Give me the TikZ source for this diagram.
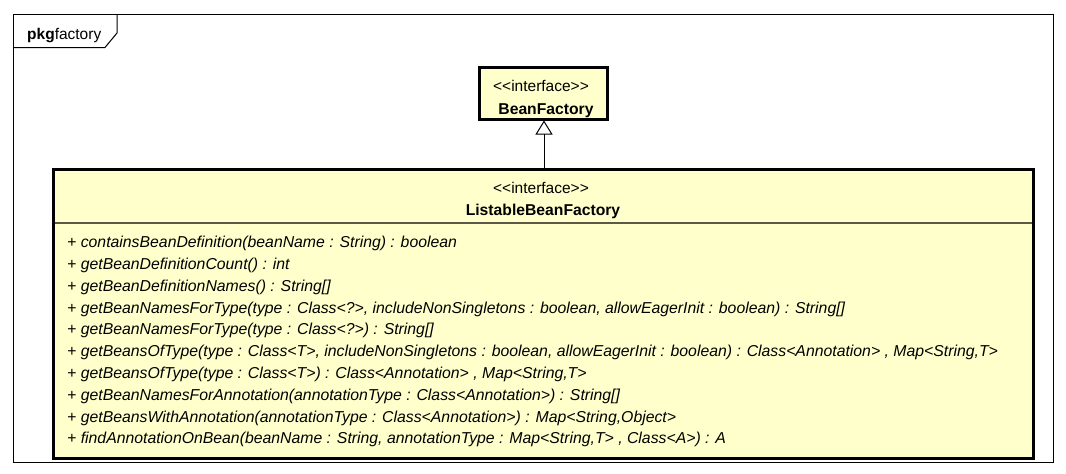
\documentclass[tikz,border=0pt]{standalone}
\usepackage{fontspec}
\setmainfont{Liberation Sans}
\usetikzlibrary{arrows.meta}
\definecolor{umlfill}{RGB}{255,255,204}
\definecolor{sepline}{RGB}{90,90,70}
\tikzset{
  pkgframe/.style={draw=black, line width=1pt},
  classbox/.style={draw=black, fill=umlfill, line width=3pt},
  stereo/.style={anchor=base, inner sep=0pt, font=\fontsize{15.5}{18}\selectfont},
  cname/.style={anchor=base, inner sep=0pt, font=\fontsize{15.7}{18}\selectfont\bfseries},
  method/.style={anchor=base west, inner sep=0pt, font=\fontsize{15.8}{18}\selectfont\itshape},
  realize/.style={-{Triangle[open, length=14pt, width=17pt, line width=1pt]}, line width=1pt}
}
\newcommand{\lt}{{<}}
\newcommand{\gt}{{>}}
\begin{document}
\begin{tikzpicture}[x=1pt,y=-1pt]
\useasboundingbox (0,0) rectangle (1066,474);
\fill[white] (0,0) rectangle (1066,474);
% package frame
\draw[pkgframe] (13,14) rectangle (1053,462);
\draw[pkgframe] (13,47.5) -- (105,47.5) -- (117,33) -- (117,14);
\node[anchor=base west, inner sep=0pt, font=\fontsize{15.5}{18}\selectfont] (pkglabel) at (27,39) {\textbf{pkg}factory};
% BeanFactory
\draw[classbox] (479,67) rectangle (607,119);
\coordinate (bfbottom) at (544,120.5);
\node[stereo] (bfstereo) at (541,91) {\lt\lt interface\gt\gt};
\node[cname] (bfname) at (546,114) {BeanFactory};
% ListableBeanFactory
\draw[classbox] (53,169) rectangle (1033,458);
\coordinate (lbftop) at (544,167.5);
\draw[sepline, line width=1.2pt] (54.5,223) -- (1031.5,223);
\node[stereo] (lbfstereo) at (541,193) {\lt\lt interface\gt\gt};
\node[cname] (lbfname) at (543,215) {ListableBeanFactory};
\node[method] (m1) at (67,247.5) {+ containsBeanDefinition(beanName : String) : boolean};
\node[method] (m2) at (67,269.5) {+ getBeanDefinitionCount() : int};
\node[method] (m3) at (67,291) {+ getBeanDefinitionNames() : String[]};
\node[method] (m4) at (67,313) {+ getBeanNamesForType(type : Class\lt?\gt, includeNonSingletons : boolean, allowEagerInit : boolean) : String[]};
\node[method] (m5) at (67,334.5) {+ getBeanNamesForType(type : Class\lt?\gt) : String[]};
\node[method] (m6) at (67,356.5) {+ getBeansOfType(type : Class\lt T\gt, includeNonSingletons : boolean, allowEagerInit : boolean) : Class\lt Annotation\gt\ , Map\lt String,T\gt};
\node[method] (m7) at (67,378.5) {+ getBeansOfType(type : Class\lt T\gt) : Class\lt Annotation\gt\ , Map\lt String,T\gt};
\node[method] (m8) at (67,400) {+ getBeanNamesForAnnotation(annotationType : Class\lt Annotation\gt) : String[]};
\node[method] (m9) at (67,422) {+ getBeansWithAnnotation(annotationType : Class\lt Annotation\gt) : Map\lt String,Object\gt};
\node[method] (m10) at (67,443.5) {+ findAnnotationOnBean(beanName : String, annotationType : Map\lt String,T\gt\ , Class\lt A\gt) : A};
% generalization
\draw[realize] (lbftop) -- (bfbottom);
\end{tikzpicture}
\end{document}
